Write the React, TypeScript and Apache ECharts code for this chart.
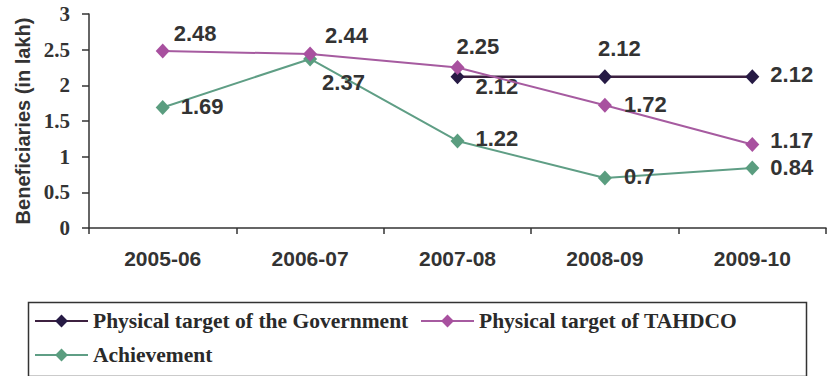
import React, { useEffect, useRef } from "react";
import * as echarts from "echarts";

const categories = ["2005-06", "2006-07", "2007-08", "2008-09", "2009-10"];
const govTarget: (number | string)[] = ["-", "-", 2.12, 2.12, 2.12];
const tahdcoTarget: number[] = [2.48, 2.44, 2.25, 1.72, 1.17];
const achievement: number[] = [1.69, 2.37, 1.22, 0.7, 0.84];
const yTicks = [0, 0.5, 1, 1.5, 2, 2.5, 3];

const seriesNames = [
  "Physical target of the Government",
  "Physical target of TAHDCO",
  "Achievement",
];

// label offsets (style only)
const govOffsets = [[0, 0], [0, 0], [0, 10], [-25, -28], [0, -2]];
const tahdcoOffsets = [[-7, -18], [-3, -18], [-19, -21], [1, -1], [0, -4]];
const achOffsets = [[0, -1], [-6, 24], [0, -2], [1, -2], [0, -1]];

const LABEL_FONT = "'Liberation Sans', Arial, sans-serif";
const SERIF = "'Liberation Serif', 'Times New Roman', serif";

function withOffsets(values: (number | string)[], offs: number[][]) {
  return values.map((v, i) => ({ value: v, label: { offset: offs[i] } }));
}

export default function App() {
  const ref = useRef<HTMLDivElement>(null);
  useEffect(() => {
    if (!ref.current) return;
    const chart = echarts.init(ref.current, undefined, { renderer: "svg" });
    const baseLabel = {
      show: true,
      position: "right",
      distance: 11,
      fontFamily: LABEL_FONT,
      fontWeight: "bold",
      fontSize: 22,
      color: "#333",
    };
    const legendCommon = {
      orient: "horizontal",
      itemWidth: 53,
      itemHeight: 16,
      itemGap: 0,
      padding: 0,
      textStyle: {
        fontFamily: SERIF,
        fontWeight: "bold",
        fontSize: 21.5,
        color: "#2a2a2a",
        padding: [0, 0, 0, 0],
      },
    };
    chart.setOption({
      animation: false,
      backgroundColor: "#fff",
      grid: { left: 89, right: 3, top: 14, bottom: 148, containLabel: false },
      xAxis: {
        type: "category",
        data: categories,
        boundaryGap: true,
        axisLine: { show: true, lineStyle: { color: "#333", width: 1.5 } },
        axisTick: { show: true, length: 6, lineStyle: { color: "#333", width: 1.5 } },
        axisLabel: {
          margin: 20,
          fontFamily: "'Liberation Sans Narrow', 'Arial Narrow', 'Liberation Sans', sans-serif",
          fontWeight: "bold",
          fontSize: 21,
          color: "#333",
        },
      },
      yAxis: {
        type: "value",
        min: yTicks[0],
        max: yTicks[yTicks.length - 1],
        interval: 0.5,
        name: "Beneficiaries (in lakh)",
        nameLocation: "middle",
        nameRotate: 90,
        nameGap: 53,
        nameTextStyle: {
          fontFamily: LABEL_FONT,
          fontWeight: "bold",
          fontSize: 20,
          color: "#333",
        },
        axisLine: { show: true, lineStyle: { color: "#333", width: 1.5 } },
        axisTick: { show: true, length: 7, lineStyle: { color: "#333", width: 1.5 } },
        splitLine: { show: false },
        axisLabel: {
          margin: 19,
          fontFamily: SERIF,
          fontWeight: "bold",
          fontSize: 21,
          color: "#333",
        },
      },
      legend: [
        { ...legendCommon, data: [seriesNames[0]], left: 34, top: 310 },
        { ...legendCommon, data: [seriesNames[1]], left: 420, top: 310 },
        { ...legendCommon, data: [seriesNames[2]], left: 34, top: 344 },
      ],
      graphic: [
        {
          type: "rect",
          left: 26,
          top: 300,
          shape: { x: 0, y: 0, width: 778, height: 74 },
          style: { fill: "none", stroke: "#333", lineWidth: 1.5 },
          silent: true,
        },
      ],
      series: [
        {
          name: seriesNames[1],
          type: "line",
          data: withOffsets(tahdcoTarget, tahdcoOffsets),
          symbol: "diamond",
          symbolSize: [14, 15],
          lineStyle: { color: "#a65ba0", width: 2 },
          itemStyle: { color: "#a8509f" },
          label: baseLabel,
          z: 3,
        },
        {
          name: seriesNames[0],
          type: "line",
          data: withOffsets(govTarget, govOffsets),
          symbol: "diamond",
          symbolSize: [14, 15],
          lineStyle: { color: "#3d2140", width: 2.5 },
          itemStyle: { color: "#261a44" },
          label: baseLabel,
          z: 2,
        },
        {
          name: seriesNames[2],
          type: "line",
          data: withOffsets(achievement, achOffsets),
          symbol: "diamond",
          symbolSize: [14, 15],
          lineStyle: { color: "#5f9e85", width: 2 },
          itemStyle: { color: "#5a9d7f" },
          label: baseLabel,
          z: 2,
        },
      ],
    });
    return () => chart.dispose();
  }, []);
  return (
    <div
      ref={ref}
      style={{ position: "fixed", left: 0, top: 0, width: 829, height: 376, background: "#fff" }}
    />
  );
}
